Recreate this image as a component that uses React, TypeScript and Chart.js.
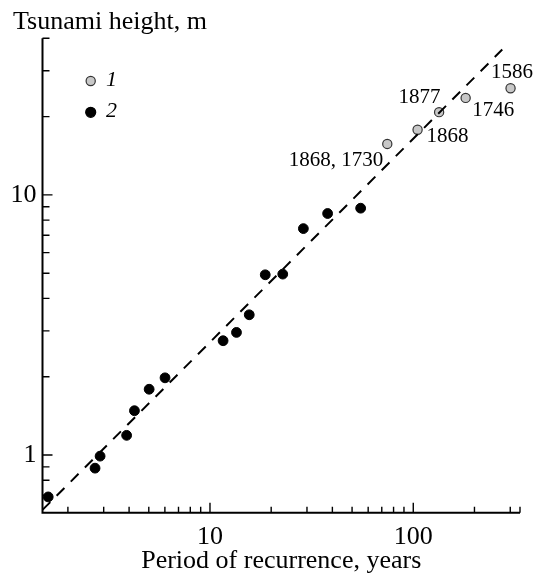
import React, { useEffect, useRef } from 'react';
import { Chart, registerables } from 'chart.js';

Chart.register(...registerables);

// ---- data ----
const blackPeriods = [1.6, 2.72, 2.88, 3.89, 4.25, 5.02, 6.01, 11.6, 13.5, 15.6, 18.7, 22.8, 28.8, 37.9, 55.1];
const blackHeights = [0.69, 0.89, 0.99, 1.19, 1.48, 1.79, 1.98, 2.75, 2.96, 3.46, 4.93, 4.96, 7.42, 8.48, 8.89];
const grayPeriods = [74.5, 105, 134, 181, 301];
const grayHeights = [15.7, 17.8, 20.8, 23.6, 25.7];
const grayYears = ['1868, 1730', '1868', '1877', '1746', '1586'];
const fitPeriods = [1.5, 274];
const fitHeights = [0.615, 36.2];

const xRange = [1.5, 335];
const yRange = [0.6, 40];
const xMajorTicks = [10, 100];
const xMinorTicks = [2, 3, 4, 5, 6, 7, 8, 9, 20, 30, 40, 50, 60, 70, 80, 90, 200, 300];
const yMajorTicks = [1, 10];
const yMinorTicks = [0.7, 0.8, 0.9, 2, 3, 4, 5, 6, 7, 8, 9, 20, 30, 40];
const legendLabels = ['1', '2'];
const yTitle = 'Tsunami height, m';
const xTitle = 'Period of recurrence, years';

// ---- styles ----
const FONT = "'Liberation Serif', 'Times New Roman', serif";
const GRAY = '#c8c8c8';
const INK = '#000000';
const labelOffsets = [
  { dx: -4, dy: 22, align: 'right' },
  { dx: 9, dy: 12.7, align: 'left' },
  { dx: 1.4, dy: -9.3, align: 'right' },
  { dx: 6.6, dy: 18, align: 'left' },
  { dx: 1.5, dy: -10, align: 'center' },
];

const decorPlugin = {
  id: 'decor',
  afterDraw(chart: any) {
    const ctx = chart.ctx;
    const xs = chart.scales.x;
    const ys = chart.scales.y;
    const { left, right, top, bottom } = chart.chartArea;
    ctx.save();
    ctx.strokeStyle = INK;
    // axes
    ctx.lineWidth = 2;
    ctx.beginPath();
    ctx.moveTo(left, top);
    ctx.lineTo(left, bottom);
    ctx.lineTo(right, bottom);
    ctx.stroke();
    // ticks (inward)
    ctx.lineWidth = 1.4;
    ctx.beginPath();
    const xt = [...xMajorTicks.map((v) => [v, 10]), ...xMinorTicks.map((v) => [v, 6]), [xRange[1], 6]];
    xt.forEach(([v, len]) => {
      const p = xs.getPixelForValue(v);
      ctx.moveTo(p, bottom);
      ctx.lineTo(p, bottom - len);
    });
    const yt = [...yMajorTicks.map((v) => [v, 10]), ...yMinorTicks.map((v) => [v, 7])];
    yt.forEach(([v, len]) => {
      const p = ys.getPixelForValue(v);
      ctx.moveTo(left, p);
      ctx.lineTo(left + len, p);
    });
    ctx.stroke();

    // y title
    ctx.fillStyle = INK;
    ctx.font = `26px ${FONT}`;
    ctx.textAlign = 'left';
    ctx.textBaseline = 'alphabetic';
    ctx.fillText(yTitle, 13, 29.3);

    // annotations for series 1
    ctx.font = `21px ${FONT}`;
    grayYears.forEach((t, i) => {
      const px = xs.getPixelForValue(grayPeriods[i]);
      const py = ys.getPixelForValue(grayHeights[i]);
      const o = labelOffsets[i];
      ctx.textAlign = o.align as CanvasTextAlign;
      ctx.fillText(t, px + o.dx, py + o.dy);
    });

    // legend
    const legendRows = [
      { fill: GRAY, stroke: '#333', r: 4.6, cy: 81, base: 86 },
      { fill: INK, stroke: INK, r: 5, cy: 112.3, base: 116.7 },
    ];
    legendRows.forEach((row, i) => {
      ctx.beginPath();
      ctx.arc(90.7, row.cy, row.r, 0, Math.PI * 2);
      ctx.fillStyle = row.fill;
      ctx.fill();
      ctx.lineWidth = 1.2;
      ctx.strokeStyle = row.stroke;
      ctx.stroke();
      ctx.fillStyle = INK;
      ctx.font = `italic 22px ${FONT}`;
      ctx.textAlign = 'left';
      ctx.fillText(legendLabels[i], 106, row.base);
    });
    ctx.restore();
  },
};

export default function App() {
  const canvasRef = useRef<HTMLCanvasElement | null>(null);

  useEffect(() => {
    const canvas = canvasRef.current;
    if (!canvas) return;
    const labelled = (majors: number[]) => (v: any) => (majors.includes(Number(v)) ? String(v) : null);
    const chart = new Chart(canvas, {
      type: 'scatter',
      data: {
        datasets: [
          {
            type: 'line',
            label: 'fit',
            data: fitPeriods.map((x, i) => ({ x, y: fitHeights[i] })),
            borderColor: INK,
            borderWidth: 2,
            borderDash: [11, 9],
            pointRadius: 0,
            fill: false,
            showLine: true,
            order: 0,
          } as any,
          {
            label: '1',
            data: grayPeriods.map((x, i) => ({ x, y: grayHeights[i] })),
            backgroundColor: GRAY,
            borderColor: '#333',
            borderWidth: 1.2,
            pointRadius: 4.6,
            order: 1,
          },
          {
            label: '2',
            data: blackPeriods.map((x, i) => ({ x, y: blackHeights[i] })),
            backgroundColor: INK,
            borderColor: INK,
            borderWidth: 1,
            pointRadius: 4.9,
            order: 2,
          },
        ],
      },
      options: {
        animation: false,
        responsive: false,
        devicePixelRatio: 1,
        layout: { padding: { top: 38.3, right: 14, left: 0, bottom: 0 } },
        plugins: { legend: { display: false }, tooltip: { enabled: false }, title: { display: false } },
        scales: {
          x: {
            type: 'logarithmic',
            min: xRange[0],
            max: xRange[1],
            grid: { display: false, drawTicks: false },
            border: { display: false },
            afterBuildTicks: (scale: any) => {
              scale.ticks = [...xMajorTicks, ...xMinorTicks].sort((a, b) => a - b).map((value) => ({ value }));
            },
            afterFit: (scale: any) => {
              scale.height = 61.3;
            },
            ticks: {
              autoSkip: false,
              maxRotation: 0,
              padding: 11.5,
              color: INK,
              font: { family: FONT, size: 26, lineHeight: 1 },
              callback: labelled(xMajorTicks),
            },
            title: {
              display: true,
              text: xTitle,
              color: INK,
              font: { family: FONT, size: 26, lineHeight: 1 },
              padding: { top: 0, bottom: 0 },
            },
          },
          y: {
            type: 'logarithmic',
            min: yRange[0],
            max: yRange[1],
            grid: { display: false, drawTicks: false },
            border: { display: false },
            afterBuildTicks: (scale: any) => {
              scale.ticks = [...yMajorTicks, ...yMinorTicks].sort((a, b) => a - b).map((value) => ({ value }));
            },
            afterFit: (scale: any) => {
              scale.width = 42.5;
            },
            ticks: {
              autoSkip: false,
              padding: 6,
              color: INK,
              font: { family: FONT, size: 26, lineHeight: 1 },
              callback: labelled(yMajorTicks),
            },
          },
        },
      },
      plugins: [decorPlugin],
    });
    return () => chart.destroy();
  }, []);

  return (
    <div style={{ position: 'absolute', left: 0, top: 0, width: 534, height: 574, background: '#fff' }}>
      <canvas ref={canvasRef} width={534} height={574} style={{ display: 'block' }} />
    </div>
  );
}
